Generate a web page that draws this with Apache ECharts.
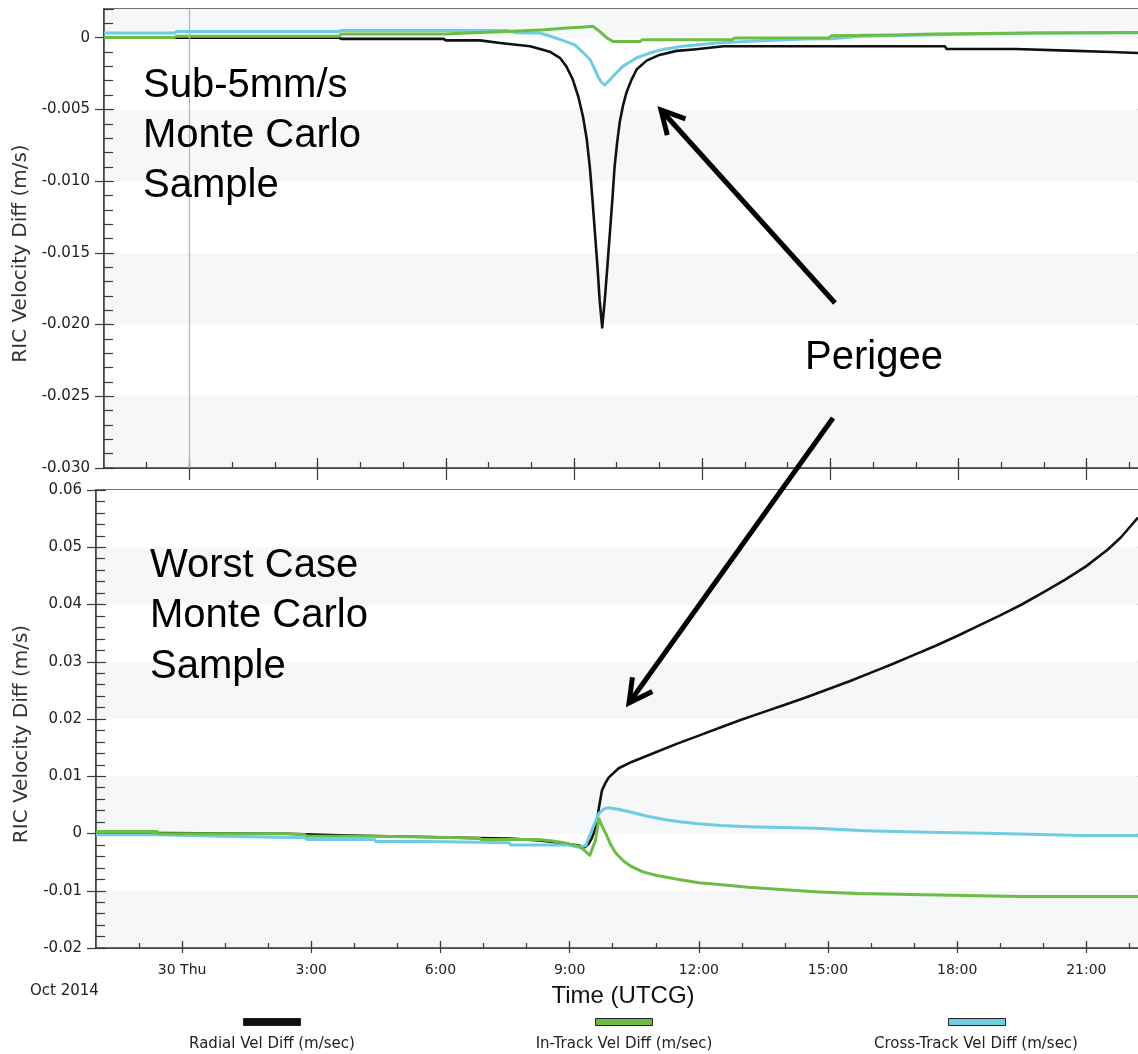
<!DOCTYPE html>
<html><head><meta charset="utf-8">
<script src="https://cdn.jsdelivr.net/npm/echarts@6/dist/echarts.min.js"></script>
<style>html,body{margin:0;padding:0;background:#fff}#c{width:1138px;height:1054px}</style>
</head><body><div id="c"></div>
<script>
// ---- tick positions / labels ----
const xTickHours = [0, 3, 6, 9, 12, 15, 18, 21];
const xTickLabels = ['30 Thu', '3:00', '6:00', '9:00', '12:00', '15:00', '18:00', '21:00'];
const xMinorHours = [-1, 0, 1, 2, 3, 4, 5, 6, 7, 8, 9, 10, 11, 12, 13, 14, 15, 16, 17, 18, 19, 20, 21, 22];
const topYTicks = [0, -0.005, -0.010, -0.015, -0.020, -0.025, -0.030];
const bottomYTicks = [0.06, 0.05, 0.04, 0.03, 0.02, 0.01, 0, -0.01, -0.02];
const seriesNames = ['Radial Vel Diff (m/sec)', 'In-Track Vel Diff (m/sec)', 'Cross-Track Vel Diff (m/sec)'];

// ---- top panel: Sub-5mm/s sample  [hours from 30 Oct 00:00, m/s] ----
const topRadial = [[-2,0],[3.5,0],[3.55,-0.00008],[5.95,-0.00008],[6.0,-0.00019],[6.8,-0.00019],[7.27,-0.00037],[7.97,-0.0006],[8.27,-0.00084],[8.43,-0.00098],[8.67,-0.0014],[8.82,-0.002],[8.97,-0.0029],[9.1,-0.0041],[9.21,-0.0055],[9.3,-0.0071],[9.37,-0.009],[9.43,-0.0112],[9.49,-0.0136],[9.55,-0.016],[9.60,-0.0183],[9.66,-0.0202],[9.72,-0.0183],[9.78,-0.016],[9.84,-0.0136],[9.9,-0.0112],[9.95,-0.009],[10.01,-0.0073],[10.07,-0.0059],[10.15,-0.0047],[10.23,-0.0038],[10.35,-0.0029],[10.47,-0.0022],[10.7,-0.0016],[11.0,-0.0012],[11.4,-0.00092],[11.8,-0.00082],[12.5,-0.0006],[17.68,-0.0006],[17.72,-0.00079],[19.33,-0.00079],[19.37,-0.0009],[20.56,-0.0009],[20.6,-0.001],[21.58,-0.001],[21.62,-0.00107],[22.2,-0.00107]];
const topInTrack = [[-2,0.00002],[-0.35,0.00002],[-0.3,0.0001],[3.5,0.0001],[3.55,0.00026],[5.98,0.00026],[6.5,0.00033],[7.43,0.00044],[8.32,0.00056],[8.83,0.00068],[9.25,0.00075],[9.44,0.0008],[9.6,0.00044],[9.77,-0.00002],[9.91,-0.00026],[10.55,-0.00026],[10.6,-0.00014],[12.7,-0.00014],[12.76,-0.00002],[14.98,-0.00002],[15.02,0.00014],[16.5,0.00018],[17.4,0.00025],[19.8,0.00033],[22.2,0.00036]];
const topCrossTrack = [[-2,0.00033],[-0.35,0.00033],[-0.3,0.00044],[3.5,0.00044],[3.55,0.0005],[7.43,0.0005],[7.66,0.00035],[8.2,0.00033],[8.45,0.0001],[8.75,-0.0002],[9.02,-0.0005],[9.2,-0.001],[9.37,-0.0015],[9.47,-0.0021],[9.56,-0.0027],[9.64,-0.0031],[9.72,-0.0033],[9.82,-0.003],[9.91,-0.0027],[10.14,-0.002],[10.47,-0.0014],[10.77,-0.00107],[11.1,-0.0008],[11.54,-0.0006],[12.34,-0.00037],[13.5,-0.0002],[14.44,-0.0001],[15.05,-0.00007],[15.68,0.0001],[17.38,0.0002],[19.8,0.00033],[22.2,0.00035]];

// ---- bottom panel: worst-case sample ----
const botRadial = [[-2,0.0001],[-0.58,0.0001],[-0.55,-0.00005],[2.43,-0.00005],[2.47,-0.0003],[3.66,-0.0003],[3.7,-0.00055],[5.97,-0.00065],[6.9,-0.0008],[7.6,-0.0009],[8.3,-0.0012],[8.75,-0.0016],[9.21,-0.0021],[9.35,-0.0024],[9.44,-0.0018],[9.51,-0.0009],[9.58,0.0005],[9.63,0.0018],[9.68,0.0045],[9.75,0.0075],[9.83,0.0088],[9.91,0.0098],[10.14,0.0114],[10.44,0.0125],[11.0,0.0142],[11.5,0.0157],[12.0,0.0171],[12.5,0.0185],[13.0,0.0199],[13.5,0.0212],[14.0,0.0225],[14.5,0.0238],[15.0,0.0252],[15.5,0.0266],[16.0,0.0281],[16.5,0.0296],[17.0,0.0312],[17.5,0.0328],[18.0,0.0345],[18.5,0.0363],[19.0,0.0381],[19.5,0.0400],[20.0,0.0421],[20.5,0.0443],[21.0,0.0467],[21.5,0.0496],[21.8,0.0517],[22.2,0.0552]];
const botInTrack = [[-2,0.00035],[-0.58,0.00035],[-0.55,-0.00005],[2.43,-0.00005],[2.47,-0.0002],[2.85,-0.0002],[2.9,-0.00047],[4.47,-0.00047],[4.5,-0.00065],[5.97,-0.00065],[6.0,-0.00082],[6.9,-0.00082],[6.95,-0.00105],[8.29,-0.00105],[8.6,-0.0013],[8.87,-0.0016],[9.21,-0.0022],[9.35,-0.003],[9.47,-0.0038],[9.6,-0.0012],[9.68,0.0026],[9.76,0.0012],[9.84,0.0],[9.95,-0.0019],[10.07,-0.0034],[10.25,-0.0048],[10.44,-0.0058],[10.7,-0.0067],[11.0,-0.0073],[11.5,-0.0080],[12.0,-0.0086],[12.6,-0.0090],[13.15,-0.0094],[13.91,-0.0098],[14.8,-0.0102],[15.7,-0.0105],[17.25,-0.0107],[19.47,-0.011],[22.2,-0.011]];
const botCrossTrack = [[-2,-0.00023],[-0.58,-0.00023],[-0.55,-0.00052],[1.18,-0.00052],[1.22,-0.00075],[2.85,-0.00075],[2.9,-0.00105],[4.47,-0.00105],[4.5,-0.0014],[5.74,-0.0014],[5.78,-0.0016],[7.59,-0.0016],[7.63,-0.002],[8.98,-0.002],[9.21,-0.0024],[9.375,-0.0021],[9.51,0.0005],[9.68,0.0035],[9.8,0.0043],[9.91,0.0045],[10.15,0.0042],[10.44,0.0037],[10.8,0.0030],[11.23,0.0024],[11.6,0.0020],[11.99,0.0017],[12.5,0.0014],[13.15,0.0012],[14.7,0.0009],[15.86,0.0005],[17.32,0.0002],[18.93,0.0],[20.9,-0.00035],[22.2,-0.00035]];

// ---- styling ----
const AX = '#3a3a3a';
const COLORS = ['#111111', '#6cbd45', '#6ecde0'];
const FONT = '"DejaVu Sans", Verdana, sans-serif';
const X_MIN = -2, X_MAX = 22.2;

function mkX(gi, o) {
  return {
    type: 'value', gridIndex: gi, min: X_MIN, max: X_MAX, position: 'bottom',
    axisLine: { show: !!o.line, onZero: false, lineStyle: { color: AX, width: 1.5 } },
    axisTick: { show: true, inside: o.inside, length: o.len, customValues: o.ticks, lineStyle: { color: AX, width: 1.2 } },
    axisLabel: o.labels ? {
      show: true, customValues: xTickHours, margin: 15, fontSize: 14, color: '#222', fontFamily: FONT,
      formatter: v => { const i = xTickHours.indexOf(Math.round(v)); return i >= 0 ? xTickLabels[i] : ''; }
    } : { show: false },
    splitLine: { show: false }, splitArea: { show: false },
    name: o.name || '', nameLocation: 'middle', nameGap: 36,
    nameTextStyle: { fontSize: 24, color: '#111', fontFamily: '"Liberation Sans", Arial, sans-serif', padding: [0, 0, 0, 12] }
  };
}
function isMultiple(v, step) { const r = v / step; return Math.abs(r - Math.round(r)) < 1e-6; }
function mkYMain(gi, min, max, step, dec, gap) {
  return {
    type: 'value', gridIndex: gi, min: min, max: max, interval: step, position: 'left',
    axisLine: { show: true, onZero: false, lineStyle: { color: AX, width: 1.5 } },
    axisTick: { show: true, inside: true, length: 10, lineStyle: { color: AX, width: 1.2 } },
    minorTick: { show: true, splitNumber: 5, length: 9, lineStyle: { color: AX, width: 1.2 } },
    axisLabel: {
      margin: 14, fontSize: 15, color: '#222', fontFamily: FONT,
      formatter: v => !isMultiple(v, step) ? '' : (Math.abs(v) < 1e-12 ? '0' : v.toFixed(dec))
    },
    splitLine: { show: false },
    splitArea: { show: true, areaStyle: { color: ['#f6f7f9', '#ffffff'] } },
    name: 'RIC Velocity Diff (m/s)', nameLocation: 'middle', nameGap: gap,
    nameTextStyle: { fontSize: 20, color: '#333', fontFamily: FONT, padding: [0, 30, 0, 0] }
  };
}
function mkYOver(gi, min, max, step, ticks) {
  return {
    type: 'value', gridIndex: gi, min: min, max: max, interval: step, position: 'left',
    axisLine: { show: false, onZero: false },
    axisTick: { show: true, inside: false, length: 9, customValues: ticks, lineStyle: { color: AX, width: 1.2 } },
    axisLabel: { show: false }, splitLine: { show: false }, splitArea: { show: false }
  };
}
function mkSeries(name, data, xi, yi, color, width, extra) {
  return Object.assign({
    type: 'line', name: name, data: data, xAxisIndex: xi, yAxisIndex: yi,
    showSymbol: false, symbol: 'none', silent: true,
    lineStyle: { color: color, width: width, join: 'round' }, itemStyle: { color: color }
  }, extra || {});
}

const chart = echarts.init(document.getElementById('c'), null, { renderer: 'canvas' });

const legends = seriesNames.map((n, i) => ({
  data: [n], left: [243, 595, 948][i], top: 1018, padding: 0,
  icon: 'rect', itemWidth: 57, itemHeight: 7, selectedMode: false,
  itemStyle: { borderColor: '#222', borderWidth: 1 },
  formatter: () => ''
}));

// arrow geometry (annotation, pixel space)
function arrow(tail, tip) {
  const dx = tip[0] - tail[0], dy = tip[1] - tail[1], L = Math.hypot(dx, dy);
  const ux = dx / L, uy = dy / L, a = 28 * Math.PI / 180, h = 26;
  const arm = s => [tip[0] - h * (ux * Math.cos(s * a) - uy * Math.sin(s * a)),
                    tip[1] - h * (ux * Math.sin(s * a) + uy * Math.cos(s * a))];
  const st = { stroke: '#000', lineWidth: 5, fill: null, lineJoin: 'miter', lineCap: 'butt' };
  return [
    { type: 'polyline', shape: { points: [tail, tip] }, style: st, z: 100 },
    { type: 'polyline', shape: { points: [arm(1), tip, arm(-1)] }, style: st, z: 100 }
  ];
}
const bigFont = '40px "Liberation Sans", Arial, sans-serif';
function bigText(t, x, y) {
  return { type: 'text', x: x, y: y, z: 100, style: { text: t, font: bigFont, fill: '#000', align: 'left', verticalAlign: 'middle' } };
}

const graphic = [
  bigText('Sub-5mm/s', 143, 86), bigText('Monte Carlo', 143, 136), bigText('Sample', 143, 186),
  bigText('Worst Case', 150, 566), bigText('Monte Carlo', 150, 616), bigText('Sample', 150, 667),
  bigText('Perigee', 805, 358),
  ...arrow([835, 303], [661, 110]),
  ...arrow([833, 418], [629, 703]),
  { type: 'text', x: 30, y: 991, style: { text: 'Oct 2014', font: '15px ' + FONT, fill: '#222', align: 'left', verticalAlign: 'middle' } },
  ...seriesNames.map((n, i) => ({ type: 'text', x: [272, 624, 976][i], y: 1044,
    style: { text: n, font: '15px ' + FONT, fill: '#222', align: 'center', verticalAlign: 'middle' } }))
];

const option = {
  animation: false,
  backgroundColor: '#ffffff',
  textStyle: { fontFamily: FONT },
  legend: legends,
  grid: [
    { left: 104, top: 9, width: 1036, height: 459, show: true, borderColor: '#444', borderWidth: 1.5, backgroundColor: 'transparent' },
    { left: 96, top: 490, width: 1044, height: 458, show: true, borderColor: '#444', borderWidth: 1.5, backgroundColor: 'transparent' }
  ],
  xAxis: [
    mkX(0, { ticks: xMinorHours, inside: true, len: 6, line: true }),
    mkX(0, { ticks: xTickHours, inside: true, len: 10 }),
    mkX(0, { ticks: xTickHours, inside: false, len: 12 }),
    mkX(1, { ticks: xMinorHours, inside: true, len: 5, line: true, labels: true, name: 'Time (UTCG)' }),
    mkX(1, { ticks: xTickHours, inside: true, len: 7 }),
    mkX(1, { ticks: xTickHours, inside: false, len: 5 })
  ],
  yAxis: [
    mkYMain(0, -0.03, 0.002, 0.005, 3, 72),
    mkYOver(0, -0.03, 0.002, 0.005, topYTicks),
    mkYMain(1, -0.02, 0.06, 0.01, 2, 64),
    mkYOver(1, -0.02, 0.06, 0.01, bottomYTicks)
  ],
  series: [
    mkSeries(seriesNames[0], topRadial, 0, 0, COLORS[0], 2.6, {
      markLine: { silent: true, symbol: ['none', 'none'], label: { show: false },
        lineStyle: { color: '#b4b4b4', width: 1.2, type: 'solid' }, data: [{ xAxis: 0 }] }
    }),
    mkSeries(seriesNames[2], topCrossTrack, 0, 0, COLORS[2], 3),
    mkSeries(seriesNames[1], topInTrack, 0, 0, COLORS[1], 3),
    mkSeries(seriesNames[0], botRadial, 3, 2, COLORS[0], 2.6),
    mkSeries(seriesNames[2], botCrossTrack, 3, 2, COLORS[2], 3),
    mkSeries(seriesNames[1], botInTrack, 3, 2, COLORS[1], 3)
  ],
  graphic: graphic
};
chart.setOption(option);
</script>
</body></html>
